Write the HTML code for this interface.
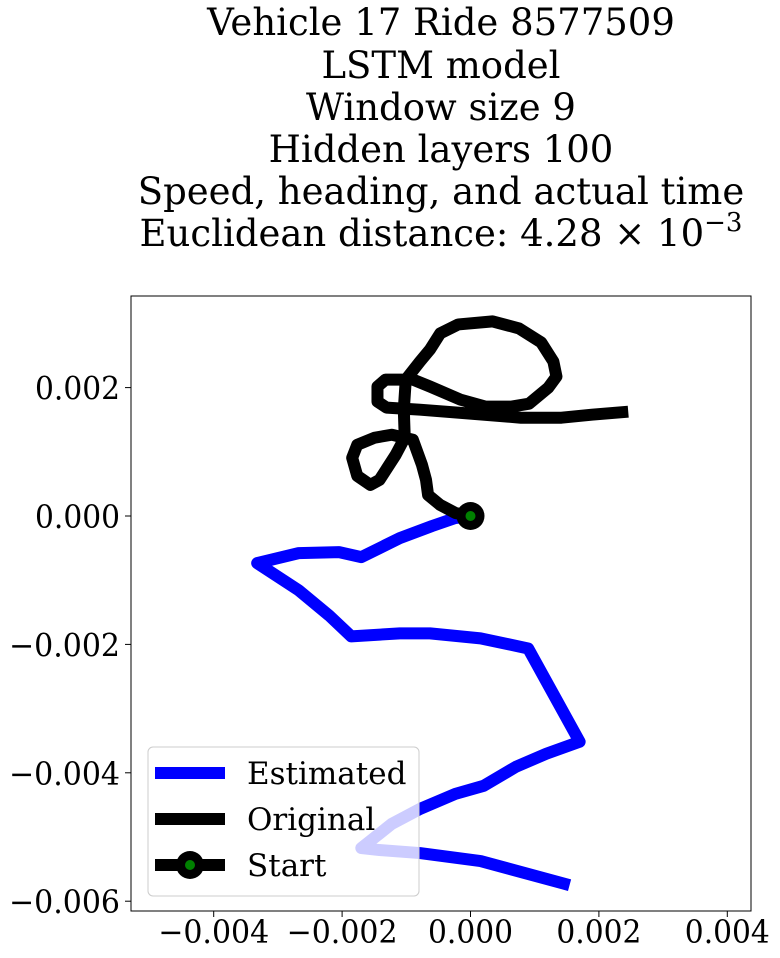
<!DOCTYPE html>
<html><head><meta charset="utf-8"><style>
body{margin:0;background:#fff;}
svg{display:block;font-family:"DejaVu Serif","Liberation Serif",serif;}
</style></head><body>
<svg id="chart" width="780" height="958" viewBox="0 0 780 958" xmlns="http://www.w3.org/2000/svg">
<g font-size="37" text-anchor="middle" fill="#000">
<text x="441" y="35">Vehicle 17 Ride 8577509</text>
<text x="441" y="78">LSTM model</text>
<text x="441" y="120">Window size 9</text>
<text x="441" y="162">Hidden layers 100</text>
<text x="441" y="204">Speed, heading, and actual time</text>
<text x="441" y="246">Euclidean distance: 4.28 × 10<tspan dy="-15" font-size="26">−3</tspan></text>
</g>
<g id="plot"></g>
</svg>
<script>
const xTicks=[-0.004,-0.002,0.000,0.002,0.004];
const yTicks=[0.002,0.000,-0.002,-0.004,-0.006];
const xTickLabels=["−0.004","−0.002","0.000","0.002","0.004"];
const yTickLabels=["0.002","0.000","−0.002","−0.004","−0.006"];
const estX=[0,-0.236,-0.598,-1.102,-1.701,-2.047,-2.677,-3.323,-2.677,-2.205,-1.858,-1.102,-0.630,0.157,0.898,1.26,1.70,1.18,0.709,0.205,-0.236,-0.787,-1.228,-1.701,-1.417,-0.787,0.157,1.543];
const estY=[0,-0.031,-0.156,-0.344,-0.641,-0.563,-0.578,-0.734,-1.156,-1.547,-1.875,-1.828,-1.828,-1.906,-2.063,-2.719,-3.516,-3.703,-3.906,-4.203,-4.328,-4.563,-4.797,-5.172,-5.203,-5.25,-5.375,-5.75];
const origX=[0,-0.236,-0.472,-0.661,-0.693,-0.756,-0.898,-1.228,-1.496,-1.764,-1.843,-1.764,-1.559,-1.417,-1.165,-1.024,-1.039,-1.008,-0.787,-0.630,-0.472,-0.189,0.346,0.756,1.102,1.291,1.339,1.213,0.913,0.630,0.236,-0.157,-0.630,-0.898,-1.323,-1.449,-1.449,-1.307,-0.787,0,0.787,1.417,1.890,2.457];
const origY=[0,0.047,0.172,0.328,0.563,0.797,1.188,1.266,1.219,1.109,0.906,0.625,0.484,0.563,0.953,1.219,1.656,2.125,2.406,2.594,2.844,2.984,3.031,2.922,2.703,2.406,2.172,2.0,1.75,1.703,1.703,1.813,2.016,2.125,2.125,2.016,1.781,1.688,1.656,1.594,1.531,1.531,1.578,1.625];
const startPt=[0,0];

const NS="http://www.w3.org/2000/svg";
const g=document.getElementById('plot');
const L=131,R=751,T=296,B=911;
const sx=v=>470.5+v*64200;
const sy=v=>516-v*64200;
function mk(tag,attrs,parent){const e=document.createElementNS(NS,tag);for(const k in attrs)e.setAttribute(k,attrs[k]);(parent||g).appendChild(e);return e;}

const est=mk('polyline',{points:estX.map((x,i)=>sx(x/1000)+','+sy(estY[i]/1000)).join(' '),fill:'none',stroke:'#0000ff','stroke-width':12,'stroke-linejoin':'round'});


const org=mk('polyline',{points:origX.map((x,i)=>sx(x/1000)+','+sy(origY[i]/1000)).join(' '),fill:'none',stroke:'#000','stroke-width':12,'stroke-linejoin':'round'});


const sm=mk('circle',{cx:sx(startPt[0]),cy:sy(startPt[1]),r:14,fill:'#000'});


mk('circle',{cx:sx(startPt[0]),cy:sy(startPt[1]),r:5,fill:'#008000'});

const frame=mk('rect',{x:L,y:T,width:R-L,height:B-T,fill:'none',stroke:'#000','stroke-width':1});



function tl(s){return s.startsWith('−')?111:85;}
xTicks.forEach((v,i)=>{
  const x=sx(v);
  mk('line',{x1:x,x2:x,y1:B,y2:B+6,stroke:'#000'});
  const t=mk('text',{x:x,y:B+32,'font-size':32,'text-anchor':'middle',textLength:tl(xTickLabels[i]),lengthAdjust:'spacingAndGlyphs'});
  t.textContent=xTickLabels[i];
  
  
});
yTicks.forEach((v,i)=>{
  const y=sy(v);
  mk('line',{x1:L-6,x2:L,y1:y,y2:y,stroke:'#000'});
  const t=mk('text',{x:L-11,y:y+12,'font-size':32,'text-anchor':'end',textLength:tl(yTickLabels[i]),lengthAdjust:'spacingAndGlyphs'});
  t.textContent=yTickLabels[i];
  
  
});

const lg=mk('g',{});


mk('rect',{x:148,y:747,width:271,height:149,rx:5,fill:'rgba(255,255,255,0.8)',stroke:'#ccc'},lg);
const items=[["Estimated","#0000ff",773],["Original","#000",819],["Start","#000",865]];
items.forEach((it,i)=>{
  mk('line',{x1:155,x2:225,y1:it[2],y2:it[2],stroke:it[1],'stroke-width':12},lg);
  if(i===2){mk('circle',{cx:190,cy:it[2],r:14,fill:'#000'},lg);mk('circle',{cx:190,cy:it[2],r:5,fill:'#008000'},lg);}
  const t=mk('text',{x:247,y:it[2]+11,'font-size':31},lg);
  t.textContent=it[0];
  
  
});
</script>
</body></html>
